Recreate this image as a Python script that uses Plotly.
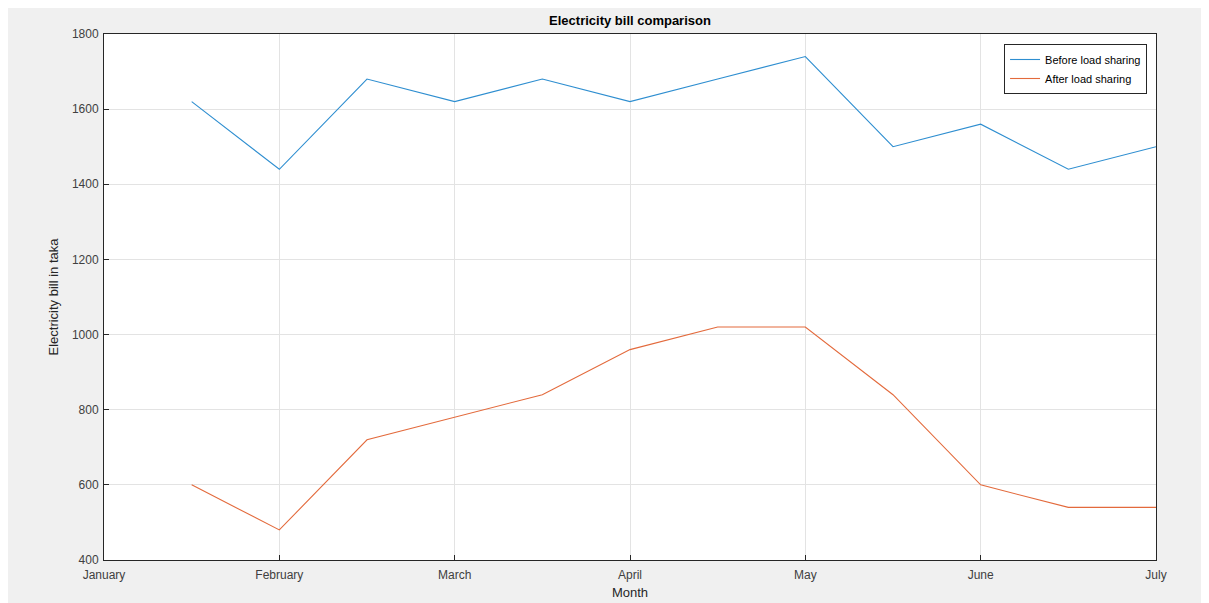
import plotly.graph_objects as go

months = ["January", "February", "March", "April", "May", "June", "July"]
month_pos = [1, 2, 3, 4, 5, 6, 7]
x_pos = [1.5, 2, 2.5, 3, 3.5, 4, 4.5, 5, 5.5, 6, 6.5, 7]
before = [1620, 1440, 1680, 1620, 1680, 1620, 1680, 1740, 1500, 1560, 1440, 1500]
after = [600, 480, 720, 780, 840, 960, 1020, 1020, 840, 600, 540, 540]

W, H = 1209, 603
OX, OY = 7, 7  # page body margin offset
L, R, T, B = 103 - OX, 1155 - OX, 33 - OY, 559 - OY

fig = go.Figure()
fig.add_trace(go.Scatter(x=x_pos, y=before, mode="lines", name="Before load sharing",
                         line=dict(color="#2E8ED0", width=1.1)))
fig.add_trace(go.Scatter(x=x_pos, y=after, mode="lines", name="After load sharing",
                         line=dict(color="#E36A3C", width=1.1)))

font = "Liberation Sans, Arial, sans-serif"
axis_common = dict(showgrid=True, gridcolor="#e3e3e3", gridwidth=1,
                   showline=True, linecolor="#262626", linewidth=1, mirror=True,
                   ticks="inside", ticklen=5, tickcolor="#262626", zeroline=False,
                   tickfont=dict(family=font, size=12, color="#404040"))

fig.update_layout(
    width=W, height=H,
    margin=dict(l=L, r=W - R, t=T, b=H - B),
    paper_bgcolor="#f0f0f0", plot_bgcolor="white",
    title=dict(text="<b>Electricity bill comparison</b>", x=(L + R) / 2 / W, xanchor="center",
               y=1 - (19 - OY) / H, yanchor="middle", font=dict(family=font, size=13, color="black")),
    xaxis=dict(range=[1, 7], tickvals=month_pos, ticktext=months, ticklabelstandoff=4,
               title=dict(text="Month", font=dict(family=font, size=13, color="#262626"), standoff=6),
               **axis_common),
    yaxis=dict(range=[400, 1800], dtick=200, ticklabelstandoff=2,
               title=dict(text="Electricity bill in taka", font=dict(family=font, size=13, color="#262626"),
                          standoff=10),
               **axis_common),
    legend=dict(x=0.9915, y=0.981, xanchor="right", yanchor="top", bgcolor="white",
                bordercolor="#262626", borderwidth=1, font=dict(family=font, size=11, color="black"),
                tracegroupgap=0, itemwidth=30),
    showlegend=True,
)

fig.write_html("out.html")
